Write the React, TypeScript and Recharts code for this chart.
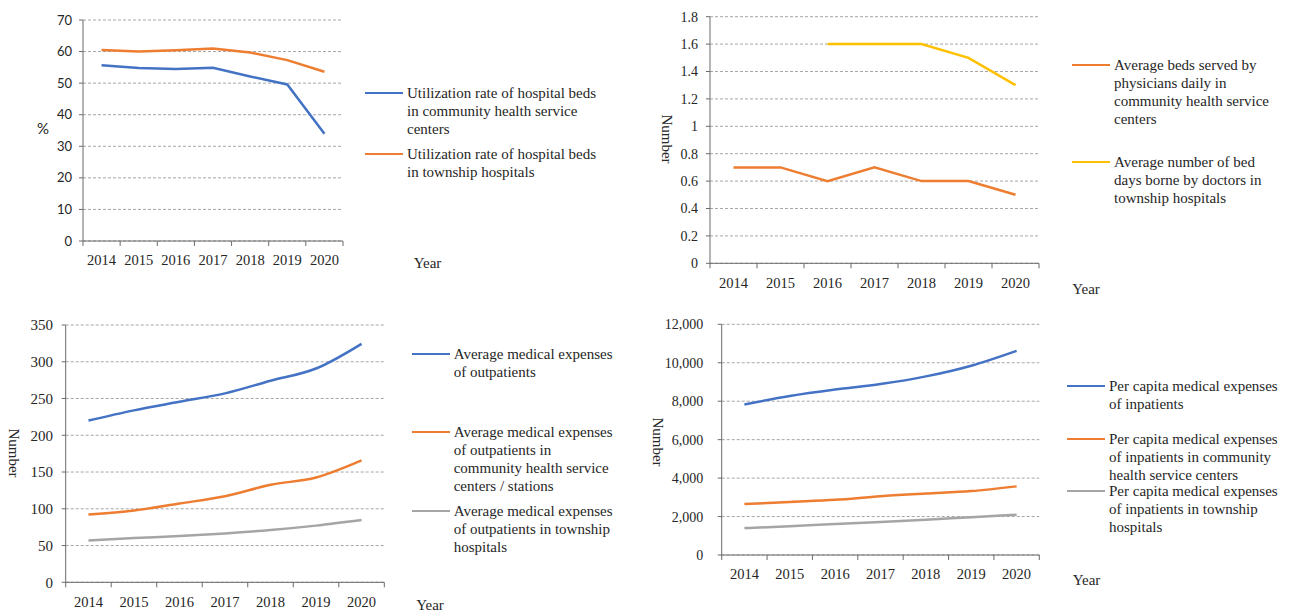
import React from 'react';
import { LineChart, Line, XAxis, YAxis, CartesianGrid, Legend } from 'recharts';

const SERIF = '"Liberation Serif", "Times New Roman", serif';
const SANS = 'Lato, "Liberation Sans", sans-serif';
const TEXT = '#262626';
const AXIS = '#6b6b6b';
const GRID = '#a6a6a6';

const BLUE = '#4472C4';
const ORANGE = '#ED7D31';
const GRAY = '#A5A5A5';
const YELLOW = '#FFC000';

const years = ['2014', '2015', '2016', '2017', '2018', '2019', '2020'];

// bed utilization rate (%)
const bedUseCommunity = [55.7, 54.8, 54.5, 54.9, 52.1, 49.6, 34.0];
const bedUseTownship = [60.5, 60.0, 60.4, 61.0, 59.7, 57.3, 53.6];
const bedUseNames = [
  'Utilization rate of hospital beds in community health service centers',
  'Utilization rate of hospital beds in township hospitals',
];
const pctTicks = [0, 10, 20, 30, 40, 50, 60, 70];

// beds / bed days per doctor
const bedsPerDoctorCommunity = [0.7, 0.7, 0.6, 0.7, 0.6, 0.6, 0.5];
const bedDaysTownship = [null, null, 1.6, 1.6, 1.6, 1.5, 1.3];
const doctorNames = [
  'Average beds served by physicians daily in community health service centers',
  'Average number of bed days borne by doctors in township hospitals',
];
const doctorTicks = [0, 0.2, 0.4, 0.6, 0.8, 1, 1.2, 1.4, 1.6, 1.8];

// outpatient expenses
const outpatientAll = [220.0, 233.9, 245.5, 257.0, 274.1, 290.8, 324.4];
const outpatientCommunity = [92.3, 97.7, 107.2, 117.0, 132.6, 142.6, 165.9];
const outpatientTownship = [56.9, 60.1, 63.0, 66.5, 71.1, 77.1, 84.7];
const outpatientNames = [
  'Average medical expenses of outpatients',
  'Average medical expenses of outpatients in community health service centers / stations',
  'Average medical expenses of outpatients in township hospitals',
];
const outpatientTicks = [0, 50, 100, 150, 200, 250, 300, 350];

// inpatient expenses
const inpatientAll = [7832, 8268, 8605, 8891, 9292, 9848, 10619];
const inpatientCommunity = [2650, 2761, 2872, 3059, 3194, 3324, 3570];
const inpatientTownship = [1400, 1490, 1617, 1717, 1834, 1969, 2095];
const inpatientNames = [
  'Per capita medical expenses of inpatients',
  'Per capita medical expenses of inpatients in community health service centers',
  'Per capita medical expenses of inpatients in township hospitals',
];
const inpatientTicks = [0, 2000, 4000, 6000, 8000, 10000, 12000];

type Series = { key: string; name: string; color: string; values: (number | null)[] };

type PanelProps = {
  left: number;
  top: number;
  width: number;
  height: number;
  plotTop: number;
  plotRight: number;
  plotBottom: number;
  yWidth: number;
  yTicks: number[];
  yGap: number;
  yFont: { fontFamily: string; fontSize: number };
  yFormat?: (v: number) => string;
  series: Series[];
  curve: 'monotone' | 'linear';
  legendLeft: number;
  legendTops: number[];
  legendTextWidth: number;
};

const slotTicks = years.map((_, i) => i).concat(years.length);

const makeYearTick = (band: number) => (props: any) => {
  const { x, y, payload } = props;
  const i = payload.value;
  if (i >= years.length) return <g />;
  return (
    <text x={x + band / 2} y={y} dy="0.71em" textAnchor="middle" fontSize={14.5} fontFamily={SERIF} fill={TEXT}>
      {years[i]}
    </text>
  );
};

const makeLegend = (names: string[], tops: number[], textWidth: number) => (props: any) => {
  const items = [...(props.payload || [])].sort((a: any, b: any) => names.indexOf(a.value) - names.indexOf(b.value));
  return (
    <div style={{ position: 'relative' }}>
      {items.map((item: any, i: number) => (
        <div
          key={item.value}
          style={{ position: 'absolute', left: 0, top: tops[i] - 9, display: 'flex', alignItems: 'flex-start' }}
        >
          <div style={{ width: 38, borderTop: `2.5px solid ${item.color}`, marginTop: 8, marginRight: 4, flexShrink: 0 }} />
          <div style={{ width: textWidth, fontFamily: SERIF, fontSize: 15, lineHeight: '18px', color: TEXT }}>
            {item.value}
          </div>
        </div>
      ))}
    </div>
  );
};

const Panel = (p: PanelProps) => {
  const rows = years.map((year, i) => {
    const row: any = { pos: i + 0.5, year };
    p.series.forEach((s) => (row[s.key] = s.values[i]));
    return row;
  });
  const marginRight = p.width - p.plotRight;
  const marginBottom = p.height - p.plotBottom - 30;
  const band = (p.plotRight - p.yWidth) / years.length;
  return (
    <div style={{ position: 'absolute', left: p.left, top: p.top }}>
      <LineChart
        width={p.width}
        height={p.height}
        data={rows}
        margin={{ top: p.plotTop, right: marginRight, left: 0, bottom: marginBottom }}
      >
        <CartesianGrid vertical={false} stroke={GRID} strokeDasharray="3 2" />
        <XAxis
          type="number"
          dataKey="pos"
          domain={[0, years.length]}
          ticks={slotTicks}
          interval={0}
          height={30}
          stroke={AXIS}
          tickSize={5}
          tickMargin={9}
          tick={makeYearTick(band)}
        />
        <YAxis
          type="number"
          domain={[p.yTicks[0], p.yTicks[p.yTicks.length - 1]]}
          ticks={p.yTicks}
          interval={0}
          width={p.yWidth}
          stroke={AXIS}
          tickSize={4}
          tickMargin={p.yGap - 4}
          tickFormatter={p.yFormat}
          tick={{ fill: TEXT, fontSize: p.yFont.fontSize, fontFamily: p.yFont.fontFamily }}
        />
        {p.series.map((s) => (
          <Line
            key={s.key}
            type={p.curve}
            dataKey={s.key}
            name={s.name}
            stroke={s.color}
            strokeWidth={2.5}
            dot={false}
            activeDot={false}
            isAnimationActive={false}
          />
        ))}
        <Legend
          layout="horizontal"
          align="center"
          verticalAlign="middle"
          wrapperStyle={{ left: p.legendLeft, top: 0, width: 240, height: 10 }}
          content={makeLegend(p.series.map((s) => s.name), p.legendTops, p.legendTextWidth)}
        />
      </LineChart>
    </div>
  );
};

const AxisTitle = ({ x, y, text, rotate, font }: { x: number; y: number; text: string; rotate?: boolean; font?: string }) => (
  <div
    style={{
      position: 'absolute',
      left: x,
      top: y,
      transform: `translate(-50%, -50%)${rotate ? ' rotate(90deg)' : ''}`,
      fontFamily: font || SERIF,
      fontSize: 15,
      lineHeight: '15px',
      color: TEXT,
      whiteSpace: 'nowrap',
    }}
  >
    {text}
  </div>
);

export default function App() {
  return (
    <div style={{ position: 'absolute', left: 0, top: 0, width: 1290, height: 614, background: '#fff', overflow: 'hidden' }}>
      <Panel
        left={0}
        top={0}
        width={640}
        height={290}
        plotTop={20}
        plotRight={343}
        plotBottom={241}
        yWidth={83}
        yTicks={pctTicks}
        yGap={11}
        yFont={{ fontFamily: SANS, fontSize: 13 }}
        series={[
          { key: 'a', name: bedUseNames[0], color: BLUE, values: bedUseCommunity },
          { key: 'b', name: bedUseNames[1], color: ORANGE, values: bedUseTownship },
        ]}
        curve="linear"
        legendLeft={365}
        legendTops={[93, 154]}
        legendTextWidth={204}
      />
      <Panel
        left={650}
        top={0}
        width={640}
        height={300}
        plotTop={16.7}
        plotRight={389}
        plotBottom={263.3}
        yWidth={60}
        yTicks={doctorTicks}
        yGap={12}
        yFont={{ fontFamily: SERIF, fontSize: 14 }}
        yFormat={(v: number) => String(v)}
        series={[
          { key: 'a', name: doctorNames[0], color: ORANGE, values: bedsPerDoctorCommunity },
          { key: 'b', name: doctorNames[1], color: YELLOW, values: bedDaysTownship },
        ]}
        curve="linear"
        legendLeft={422}
        legendTops={[65, 161.7]}
        legendTextWidth={165}
      />
      <Panel
        left={0}
        top={310}
        width={640}
        height={304}
        plotTop={15}
        plotRight={384.3}
        plotBottom={272.3}
        yWidth={65.7}
        yTicks={outpatientTicks}
        yGap={12.7}
        yFont={{ fontFamily: SERIF, fontSize: 15 }}
        series={[
          { key: 'a', name: outpatientNames[0], color: BLUE, values: outpatientAll },
          { key: 'b', name: outpatientNames[1], color: ORANGE, values: outpatientCommunity },
          { key: 'c', name: outpatientNames[2], color: GRAY, values: outpatientTownship },
        ]}
        curve="monotone"
        legendLeft={411.7}
        legendTops={[44.3, 122.3, 201]}
        legendTextWidth={166}
      />
      <Panel
        left={640}
        top={310}
        width={650}
        height={304}
        plotTop={14.3}
        plotRight={399.3}
        plotBottom={245}
        yWidth={81.7}
        yTicks={inpatientTicks}
        yGap={18.5}
        yFont={{ fontFamily: SERIF, fontSize: 14 }}
        yFormat={(v: number) => v.toLocaleString('en-US')}
        series={[
          { key: 'a', name: inpatientNames[0], color: BLUE, values: inpatientAll },
          { key: 'b', name: inpatientNames[1], color: ORANGE, values: inpatientCommunity },
          { key: 'c', name: inpatientNames[2], color: GRAY, values: inpatientTownship },
        ]}
        curve="monotone"
        legendLeft={427}
        legendTops={[76, 129, 180.7]}
        legendTextWidth={178}
      />

      <AxisTitle x={43} y={127.5} text="%" font={SANS} />
      <AxisTitle x={666} y={139} text="Number" rotate />
      <AxisTitle x={13} y={453} text="Number" rotate />
      <AxisTitle x={656.7} y={441.7} text="Number" rotate />

      <AxisTitle x={427.5} y={262.5} text="Year" />
      <AxisTitle x={1086} y={289} text="Year" />
      <AxisTitle x={430} y={605} text="Year" />
      <AxisTitle x={1086.5} y={579.5} text="Year" />
    </div>
  );
}
